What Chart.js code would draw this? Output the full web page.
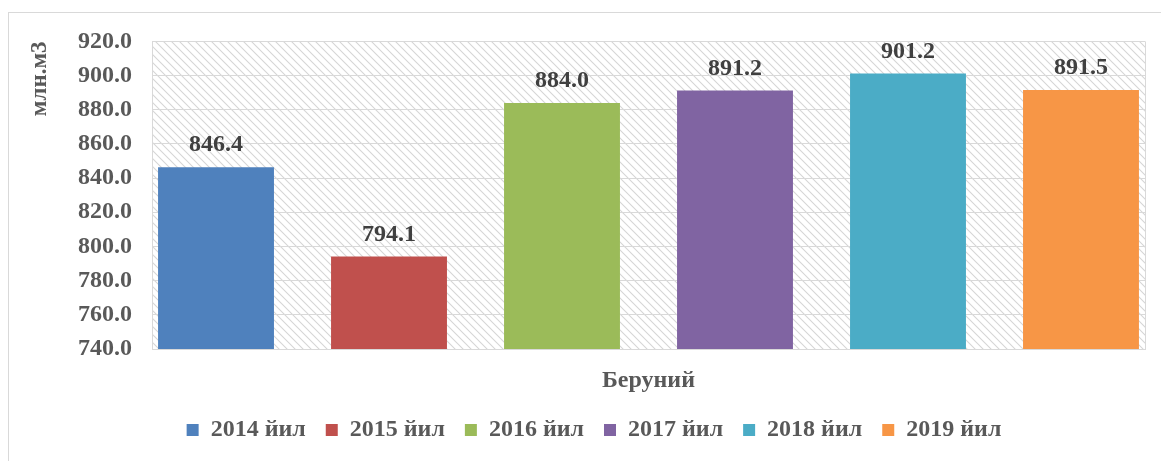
<!DOCTYPE html>
<html>
<head>
<meta charset="utf-8">
<script src="https://cdn.jsdelivr.net/npm/chart.js@4.4.1/dist/chart.umd.min.js"></script>
<style>
  html, body { margin: 0; padding: 0; background: #fff; overflow: hidden; width: 1161px; height: 461px; }
  #frame { position: absolute; left: 8px; top: 12px; width: 1174px; height: 460px;
           border-left: 1px solid #d9d9d9; border-top: 1px solid #d9d9d9; border-right: 1px solid #d9d9d9; }
  canvas { display: block; position: absolute; left: 0; top: -6px; }
</style>
</head>
<body>
<div id="frame"><canvas id="c" width="1174" height="454"></canvas></div>
<script>
const categories = ['Беруний'];
const seriesNames = ['2014 йил', '2015 йил', '2016 йил', '2017 йил', '2018 йил', '2019 йил'];
const seriesValues = [846.4, 794.1, 884.0, 891.2, 901.2, 891.5];
const seriesColors = ['#4F81BD', '#C0504D', '#9BBB59', '#8064A2', '#4BACC6', '#F79646'];
const yTitle = 'млн.м3';
const yMin = 740, yMax = 920, yStep = 20;

const FONT = '"Liberation Serif", "Times New Roman", serif';

const hatchPlugin = {
  id: 'hatch',
  beforeDraw(chart) {
    const ctx = chart.ctx;
    const a = chart.chartArea;
    ctx.save();
    const p = document.createElement('canvas');
    p.width = 8; p.height = 8;
    const pc = p.getContext('2d');
    pc.fillStyle = '#ffffff';
    pc.fillRect(0, 0, 8, 8);
    pc.strokeStyle = '#d6d6d6';
    pc.lineWidth = 1.1;
    pc.beginPath();
    pc.moveTo(-1, -1); pc.lineTo(9, 9);
    pc.moveTo(-1, 7); pc.lineTo(1, 9);
    pc.moveTo(7, -1); pc.lineTo(9, 1);
    pc.stroke();
    ctx.fillStyle = ctx.createPattern(p, 'repeat');
    ctx.fillRect(a.left, a.top, a.right - a.left, a.bottom - a.top);
    ctx.restore();
  }
};

const legendShiftPlugin = {
  id: 'legendShift',
  afterLayout(chart) {
    if (chart.legend) {
      chart.legend.left += 17;
      chart.legend.right += 17;
    }
  }
};

const valueLabelPlugin = {
  id: 'valueLabels',
  afterDatasetsDraw(chart) {
    const ctx = chart.ctx;
    ctx.save();
    ctx.font = 'bold 24px ' + FONT;
    ctx.fillStyle = '#404040';
    ctx.textAlign = 'center';
    ctx.textBaseline = 'alphabetic';
    chart.data.datasets.forEach((ds, i) => {
      const meta = chart.getDatasetMeta(i);
      meta.data.forEach((bar, j) => {
        const v = ds.data[j];
        ctx.fillText(v.toFixed(1), bar.x, bar.y - 16);
      });
    });
    ctx.restore();
  }
};

const datasets = seriesNames.map((name, i) => ({
  label: name,
  data: [seriesValues[i]],
  backgroundColor: seriesColors[i],
  borderWidth: 0,
  categoryPercentage: 1.0453,
  barPercentage: 0.67
}));

new Chart(document.getElementById('c'), {
  type: 'bar',
  data: { labels: categories, datasets },
  options: {
    responsive: false,
    animation: false,
    layout: { padding: { left: 0, right: 38, top: 22, bottom: 9 } },
    plugins: {
      tooltip: { enabled: false },
      legend: {
        position: 'bottom',
        labels: {
          boxWidth: 12, boxHeight: 12, padding: 20,
          color: '#595959',
          font: { family: FONT, size: 24, weight: 'bold' }
        }
      }
    },
    scales: {
      x: {
        grid: { display: true, color: '#d9d9d9', drawTicks: false, offset: true },
        border: { display: true, color: '#d9d9d9' },
        ticks: { color: '#595959', padding: 17, font: { family: FONT, size: 24, weight: 'bold' } },
        afterFit(scale) { scale.height = 49; }
      },
      y: {
        min: yMin, max: yMax,
        grid: { color: '#d9d9d9', drawTicks: false },
        border: { display: true, color: '#d9d9d9' },
        ticks: {
          stepSize: yStep, padding: 20, color: '#595959',
          font: { family: FONT, size: 24, weight: 'bold' },
          callback: v => Number(v).toFixed(1)
        },
        title: {
          display: true, text: yTitle, align: 'end', color: '#595959',
          font: { family: FONT, size: 23, weight: 'bold' },
          padding: { top: 17, bottom: 0 }
        },
        afterFit(scale) { scale.width = 143; }
      }
    }
  },
  plugins: [hatchPlugin, legendShiftPlugin, valueLabelPlugin]
});
</script>
</body>
</html>
